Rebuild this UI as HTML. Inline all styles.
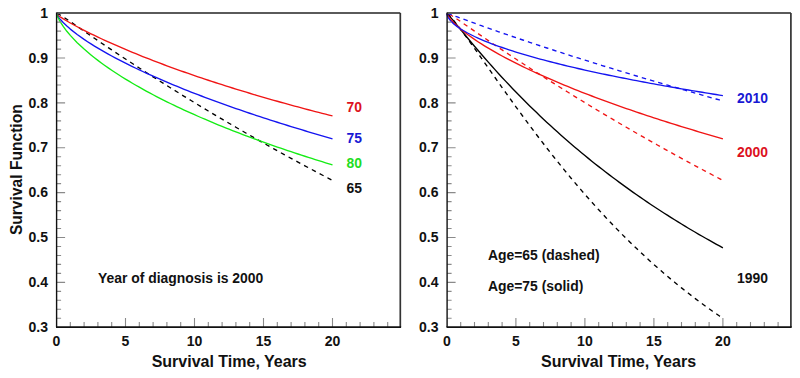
<!DOCTYPE html>
<html><head><meta charset="utf-8"><style>html,body{margin:0;padding:0;background:#fff;width:800px;height:378px;overflow:hidden}svg{display:block}</style></head>
<body><svg width="800" height="378" viewBox="0 0 800 378">
<style>
path{fill:none}
.cv path{stroke-width:1.35;stroke-linejoin:round}
.tk{stroke:#8a8a8a;stroke-width:1.1}
.ft{stroke:#5a5a5a;stroke-width:1.9}
.fr{stroke:#333;stroke-width:1.7}
.axl{stroke:#111;stroke-width:1.4}
.axb{stroke:#111;stroke-width:1.7}
text{font-family:"Liberation Sans",sans-serif;font-weight:bold}
.lb{font-size:14px;fill:#111}
.ti{font-size:16px;fill:#111}
.an{font-size:13.9px}
</style>
<rect width="800" height="378" fill="#fff"/>
<g class="cv">
<path d="M56.50,13.50 L56.78,13.51 L57.19,13.59 L57.88,13.82 L59.26,14.47 L60.64,15.24 L63.40,16.96 L66.85,19.25 L70.30,21.61 L77.20,26.38 L84.10,31.15 L87.55,33.53 L91.00,35.90 L94.45,38.25 L97.90,40.60 L101.35,42.94 L104.80,45.27 L108.25,47.59 L111.70,49.90 L115.15,52.20 L118.60,54.49 L122.05,56.77 L125.50,59.04 L128.95,61.30 L132.40,63.55 L135.85,65.79 L139.30,68.03 L142.75,70.25 L146.20,72.47 L149.65,74.68 L153.10,76.88 L156.55,79.07 L160.00,81.25 L163.45,83.43 L166.90,85.59 L170.35,87.75 L173.80,89.90 L177.25,92.04 L180.70,94.18 L184.15,96.30 L187.60,98.42 L191.05,100.53 L194.50,102.63 L197.95,104.72 L201.40,106.81 L204.85,108.89 L208.30,110.96 L211.75,113.02 L215.20,115.08 L218.65,117.12 L222.10,119.16 L225.55,121.19 L229.00,123.22 L232.45,125.23 L235.90,127.24 L239.35,129.24 L242.80,131.24 L246.25,133.22 L249.70,135.20 L253.15,137.17 L256.60,139.13 L260.05,141.09 L263.50,143.04 L266.95,144.98 L270.40,146.91 L273.85,148.83 L277.30,150.75 L280.75,152.66 L284.20,154.56 L287.65,156.45 L291.10,158.34 L294.55,160.22 L298.00,162.09 L301.45,163.95 L304.90,165.81 L308.35,167.66 L311.80,169.50 L315.25,171.33 L318.70,173.16 L322.15,174.98 L325.60,176.79 L329.05,178.59 L332.50,180.38" stroke="#000" stroke-dasharray="4.5,4.30" stroke-dashoffset="-0.31"/>
<path d="M56.50,13.50 L56.78,14.32 L57.19,14.69 L57.88,15.25 L59.26,16.26 L60.64,17.19 L63.40,18.94 L66.85,21.01 L70.30,22.99 L77.20,26.76 L84.10,30.35 L87.55,32.09 L91.00,33.79 L94.45,35.47 L97.90,37.12 L101.35,38.74 L104.80,40.33 L108.25,41.90 L111.70,43.45 L115.15,44.98 L118.60,46.48 L122.05,47.97 L125.50,49.44 L128.95,50.89 L132.40,52.32 L135.85,53.73 L139.30,55.13 L142.75,56.52 L146.20,57.88 L149.65,59.23 L153.10,60.57 L156.55,61.89 L160.00,63.20 L163.45,64.50 L166.90,65.78 L170.35,67.05 L173.80,68.31 L177.25,69.55 L180.70,70.78 L184.15,72.00 L187.60,73.21 L191.05,74.41 L194.50,75.60 L197.95,76.77 L201.40,77.94 L204.85,79.10 L208.30,80.24 L211.75,81.38 L215.20,82.50 L218.65,83.62 L222.10,84.72 L225.55,85.82 L229.00,86.91 L232.45,87.99 L235.90,89.06 L239.35,90.12 L242.80,91.17 L246.25,92.22 L249.70,93.25 L253.15,94.28 L256.60,95.30 L260.05,96.32 L263.50,97.32 L266.95,98.32 L270.40,99.31 L273.85,100.29 L277.30,101.26 L280.75,102.23 L284.20,103.19 L287.65,104.15 L291.10,105.10 L294.55,106.04 L298.00,106.97 L301.45,107.90 L304.90,108.82 L308.35,109.73 L311.80,110.64 L315.25,111.54 L318.70,112.44 L322.15,113.33 L325.60,114.21 L329.05,115.09 L332.50,115.96" stroke="#f01414"/>
<path d="M56.50,13.50 L56.78,14.22 L57.19,15.04 L57.88,16.19 L59.26,18.12 L60.64,19.82 L63.40,22.81 L66.85,26.11 L70.30,29.11 L77.20,34.52 L84.10,39.40 L87.55,41.70 L91.00,43.91 L94.45,46.06 L97.90,48.15 L101.35,50.18 L104.80,52.16 L108.25,54.09 L111.70,55.99 L115.15,57.84 L118.60,59.65 L122.05,61.43 L125.50,63.18 L128.95,64.90 L132.40,66.59 L135.85,68.25 L139.30,69.89 L142.75,71.50 L146.20,73.09 L149.65,74.65 L153.10,76.20 L156.55,77.72 L160.00,79.23 L163.45,80.72 L166.90,82.18 L170.35,83.63 L173.80,85.07 L177.25,86.49 L180.70,87.89 L184.15,89.28 L187.60,90.65 L191.05,92.01 L194.50,93.35 L197.95,94.68 L201.40,96.00 L204.85,97.30 L208.30,98.59 L211.75,99.87 L215.20,101.14 L218.65,102.40 L222.10,103.65 L225.55,104.88 L229.00,106.10 L232.45,107.32 L235.90,108.52 L239.35,109.72 L242.80,110.90 L246.25,112.07 L249.70,113.24 L253.15,114.40 L256.60,115.54 L260.05,116.68 L263.50,117.81 L266.95,118.93 L270.40,120.05 L273.85,121.15 L277.30,122.25 L280.75,123.34 L284.20,124.42 L287.65,125.49 L291.10,126.56 L294.55,127.62 L298.00,128.67 L301.45,129.72 L304.90,130.75 L308.35,131.78 L311.80,132.81 L315.25,133.83 L318.70,134.84 L322.15,135.84 L325.60,136.84 L329.05,137.83 L332.50,138.82" stroke="#1414f0"/>
<path d="M56.50,13.50 L56.78,14.46 L57.19,15.63 L57.88,17.28 L59.26,20.07 L60.64,22.48 L63.40,26.71 L66.85,31.29 L70.30,35.39 L77.20,42.67 L84.10,49.10 L87.55,52.09 L91.00,54.96 L94.45,57.72 L97.90,60.38 L101.35,62.95 L104.80,65.44 L108.25,67.87 L111.70,70.22 L115.15,72.52 L118.60,74.76 L122.05,76.95 L125.50,79.09 L128.95,81.18 L132.40,83.23 L135.85,85.24 L139.30,87.21 L142.75,89.15 L146.20,91.05 L149.65,92.91 L153.10,94.75 L156.55,96.55 L160.00,98.33 L163.45,100.08 L166.90,101.80 L170.35,103.49 L173.80,105.16 L177.25,106.81 L180.70,108.44 L184.15,110.04 L187.60,111.62 L191.05,113.18 L194.50,114.73 L197.95,116.25 L201.40,117.75 L204.85,119.24 L208.30,120.71 L211.75,122.16 L215.20,123.59 L218.65,125.01 L222.10,126.41 L225.55,127.80 L229.00,129.17 L232.45,130.53 L235.90,131.88 L239.35,133.21 L242.80,134.52 L246.25,135.83 L249.70,137.12 L253.15,138.40 L256.60,139.66 L260.05,140.92 L263.50,142.16 L266.95,143.39 L270.40,144.61 L273.85,145.82 L277.30,147.02 L280.75,148.20 L284.20,149.38 L287.65,150.55 L291.10,151.71 L294.55,152.85 L298.00,153.99 L301.45,155.12 L304.90,156.24 L308.35,157.35 L311.80,158.45 L315.25,159.54 L318.70,160.62 L322.15,161.70 L325.60,162.77 L329.05,163.82 L332.50,164.87" stroke="#14ec14"/>
<path d="M446.90,13.50 L447.18,13.66 L447.59,13.98 L448.28,14.59 L449.66,15.96 L451.04,17.46 L453.80,20.68 L457.25,24.97 L460.70,29.46 L467.60,38.79 L474.50,48.40 L477.95,53.26 L481.40,58.15 L484.85,63.05 L488.30,67.96 L491.75,72.86 L495.20,77.76 L498.65,82.64 L502.10,87.52 L505.55,92.37 L509.00,97.20 L512.45,102.00 L515.90,106.78 L519.35,111.52 L522.80,116.24 L526.25,120.92 L529.70,125.56 L533.15,130.17 L536.60,134.74 L540.05,139.27 L543.50,143.77 L546.95,148.22 L550.40,152.63 L553.85,157.00 L557.30,161.32 L560.75,165.61 L564.20,169.85 L567.65,174.04 L571.10,178.20 L574.55,182.30 L578.00,186.37 L581.45,190.38 L584.90,194.36 L588.35,198.29 L591.80,202.17 L595.25,206.01 L598.70,209.80 L602.15,213.55 L605.60,217.26 L609.05,220.91 L612.50,224.53 L615.95,228.10 L619.40,231.63 L622.85,235.11 L626.30,238.55 L629.75,241.95 L633.20,245.30 L636.65,248.61 L640.10,251.88 L643.55,255.10 L647.00,258.28 L650.45,261.42 L653.90,264.52 L657.35,267.58 L660.80,270.60 L664.25,273.58 L667.70,276.51 L671.15,279.41 L674.60,282.27 L678.05,285.08 L681.50,287.86 L684.95,290.61 L688.40,293.31 L691.85,295.97 L695.30,298.60 L698.75,301.19 L702.20,303.75 L705.65,306.27 L709.10,308.75 L712.55,311.20 L716.00,313.61 L719.45,315.99 L722.90,318.33" stroke="#000" stroke-dasharray="4.5,4.31" stroke-dashoffset="-0.43"/>
<path d="M446.90,13.50 L447.18,13.69 L447.59,14.06 L448.28,14.76 L449.66,16.29 L451.04,17.89 L453.80,21.18 L457.25,25.38 L460.70,29.59 L467.60,37.96 L474.50,46.20 L477.95,50.25 L481.40,54.27 L484.85,58.24 L488.30,62.17 L491.75,66.05 L495.20,69.89 L498.65,73.68 L502.10,77.43 L505.55,81.14 L509.00,84.80 L512.45,88.42 L515.90,92.00 L519.35,95.54 L522.80,99.03 L526.25,102.49 L529.70,105.90 L533.15,109.28 L536.60,112.61 L540.05,115.91 L543.50,119.17 L546.95,122.39 L550.40,125.58 L553.85,128.73 L557.30,131.85 L560.75,134.93 L564.20,137.97 L567.65,140.98 L571.10,143.96 L574.55,146.91 L578.00,149.82 L581.45,152.70 L584.90,155.55 L588.35,158.36 L591.80,161.15 L595.25,163.91 L598.70,166.63 L602.15,169.33 L605.60,171.99 L609.05,174.63 L612.50,177.24 L615.95,179.83 L619.40,182.38 L622.85,184.91 L626.30,187.41 L629.75,189.88 L633.20,192.33 L636.65,194.75 L640.10,197.15 L643.55,199.52 L647.00,201.87 L650.45,204.19 L653.90,206.49 L657.35,208.76 L660.80,211.01 L664.25,213.24 L667.70,215.44 L671.15,217.63 L674.60,219.79 L678.05,221.92 L681.50,224.04 L684.95,226.13 L688.40,228.21 L691.85,230.26 L695.30,232.29 L698.75,234.30 L702.20,236.29 L705.65,238.26 L709.10,240.21 L712.55,242.14 L716.00,244.05 L719.45,245.95 L722.90,247.82" stroke="#000"/>
<path d="M446.90,13.50 L447.18,13.51 L447.59,13.59 L448.28,13.82 L449.66,14.47 L451.04,15.24 L453.80,16.96 L457.25,19.25 L460.70,21.61 L467.60,26.38 L474.50,31.15 L477.95,33.53 L481.40,35.90 L484.85,38.25 L488.30,40.60 L491.75,42.94 L495.20,45.27 L498.65,47.59 L502.10,49.90 L505.55,52.20 L509.00,54.49 L512.45,56.77 L515.90,59.04 L519.35,61.30 L522.80,63.55 L526.25,65.79 L529.70,68.03 L533.15,70.25 L536.60,72.47 L540.05,74.68 L543.50,76.88 L546.95,79.07 L550.40,81.25 L553.85,83.43 L557.30,85.59 L560.75,87.75 L564.20,89.90 L567.65,92.04 L571.10,94.18 L574.55,96.30 L578.00,98.42 L581.45,100.53 L584.90,102.63 L588.35,104.72 L591.80,106.81 L595.25,108.89 L598.70,110.96 L602.15,113.02 L605.60,115.08 L609.05,117.12 L612.50,119.16 L615.95,121.19 L619.40,123.22 L622.85,125.23 L626.30,127.24 L629.75,129.24 L633.20,131.24 L636.65,133.22 L640.10,135.20 L643.55,137.17 L647.00,139.13 L650.45,141.09 L653.90,143.04 L657.35,144.98 L660.80,146.91 L664.25,148.83 L667.70,150.75 L671.15,152.66 L674.60,154.56 L678.05,156.45 L681.50,158.34 L684.95,160.22 L688.40,162.09 L691.85,163.95 L695.30,165.81 L698.75,167.66 L702.20,169.50 L705.65,171.33 L709.10,173.16 L712.55,174.98 L716.00,176.79 L719.45,178.59 L722.90,180.38" stroke="#f01414" stroke-dasharray="4.5,4.23" stroke-dashoffset="-2.32"/>
<path d="M446.90,13.50 L447.18,14.22 L447.59,15.04 L448.28,16.19 L449.66,18.12 L451.04,19.82 L453.80,22.81 L457.25,26.11 L460.70,29.11 L467.60,34.52 L474.50,39.40 L477.95,41.70 L481.40,43.91 L484.85,46.06 L488.30,48.15 L491.75,50.18 L495.20,52.16 L498.65,54.09 L502.10,55.99 L505.55,57.84 L509.00,59.65 L512.45,61.43 L515.90,63.18 L519.35,64.90 L522.80,66.59 L526.25,68.25 L529.70,69.89 L533.15,71.50 L536.60,73.09 L540.05,74.65 L543.50,76.20 L546.95,77.72 L550.40,79.23 L553.85,80.72 L557.30,82.18 L560.75,83.63 L564.20,85.07 L567.65,86.49 L571.10,87.89 L574.55,89.28 L578.00,90.65 L581.45,92.01 L584.90,93.35 L588.35,94.68 L591.80,96.00 L595.25,97.30 L598.70,98.59 L602.15,99.87 L605.60,101.14 L609.05,102.40 L612.50,103.65 L615.95,104.88 L619.40,106.10 L622.85,107.32 L626.30,108.52 L629.75,109.72 L633.20,110.90 L636.65,112.07 L640.10,113.24 L643.55,114.40 L647.00,115.54 L650.45,116.68 L653.90,117.81 L657.35,118.93 L660.80,120.05 L664.25,121.15 L667.70,122.25 L671.15,123.34 L674.60,124.42 L678.05,125.49 L681.50,126.56 L684.95,127.62 L688.40,128.67 L691.85,129.72 L695.30,130.75 L698.75,131.78 L702.20,132.81 L705.65,133.83 L709.10,134.84 L712.55,135.84 L716.00,136.84 L719.45,137.83 L722.90,138.82" stroke="#f01414"/>
<path d="M446.90,13.50 L447.18,13.53 L447.59,13.61 L448.28,13.79 L449.66,14.23 L451.04,14.70 L453.80,15.68 L457.25,16.93 L460.70,18.20 L467.60,20.73 L474.50,23.23 L477.95,24.47 L481.40,25.70 L484.85,26.93 L488.30,28.15 L491.75,29.36 L495.20,30.57 L498.65,31.77 L502.10,32.97 L505.55,34.15 L509.00,35.34 L512.45,36.51 L515.90,37.69 L519.35,38.85 L522.80,40.01 L526.25,41.17 L529.70,42.32 L533.15,43.47 L536.60,44.61 L540.05,45.75 L543.50,46.88 L546.95,48.01 L550.40,49.13 L553.85,50.25 L557.30,51.37 L560.75,52.48 L564.20,53.59 L567.65,54.69 L571.10,55.79 L574.55,56.88 L578.00,57.98 L581.45,59.06 L584.90,60.15 L588.35,61.23 L591.80,62.31 L595.25,63.38 L598.70,64.45 L602.15,65.52 L605.60,66.58 L609.05,67.64 L612.50,68.70 L615.95,69.75 L619.40,70.80 L622.85,71.85 L626.30,72.89 L629.75,73.93 L633.20,74.97 L636.65,76.01 L640.10,77.04 L643.55,78.07 L647.00,79.09 L650.45,80.11 L653.90,81.13 L657.35,82.15 L660.80,83.16 L664.25,84.17 L667.70,85.18 L671.15,86.19 L674.60,87.19 L678.05,88.19 L681.50,89.18 L684.95,90.18 L688.40,91.17 L691.85,92.16 L695.30,93.14 L698.75,94.12 L702.20,95.10 L705.65,96.08 L709.10,97.06 L712.55,98.03 L716.00,99.00 L719.45,99.97 L722.90,100.93" stroke="#1414f0" stroke-dasharray="4.5,4.03" stroke-dashoffset="-0.47"/>
<path d="M446.90,13.50 L447.18,15.13 L447.59,16.26 L448.28,17.62 L449.66,19.64 L451.04,21.26 L453.80,23.91 L457.25,26.63 L460.70,28.99 L467.60,33.02 L474.50,36.49 L477.95,38.08 L481.40,39.59 L484.85,41.04 L488.30,42.42 L491.75,43.76 L495.20,45.05 L498.65,46.30 L502.10,47.51 L505.55,48.69 L509.00,49.83 L512.45,50.95 L515.90,52.04 L519.35,53.10 L522.80,54.14 L526.25,55.16 L529.70,56.16 L533.15,57.13 L536.60,58.09 L540.05,59.04 L543.50,59.96 L546.95,60.87 L550.40,61.77 L553.85,62.65 L557.30,63.52 L560.75,64.37 L564.20,65.22 L567.65,66.05 L571.10,66.86 L574.55,67.67 L578.00,68.47 L581.45,69.26 L584.90,70.04 L588.35,70.80 L591.80,71.56 L595.25,72.31 L598.70,73.05 L602.15,73.79 L605.60,74.51 L609.05,75.23 L612.50,75.94 L615.95,76.64 L619.40,77.33 L622.85,78.02 L626.30,78.70 L629.75,79.38 L633.20,80.05 L636.65,80.71 L640.10,81.37 L643.55,82.02 L647.00,82.66 L650.45,83.30 L653.90,83.93 L657.35,84.56 L660.80,85.18 L664.25,85.80 L667.70,86.41 L671.15,87.02 L674.60,87.62 L678.05,88.22 L681.50,88.81 L684.95,89.40 L688.40,89.99 L691.85,90.57 L695.30,91.14 L698.75,91.71 L702.20,92.28 L705.65,92.85 L709.10,93.40 L712.55,93.96 L716.00,94.51 L719.45,95.06 L722.90,95.61" stroke="#1414f0"/>
</g>
<path d="M56.60,318.25h4.5 M56.60,309.28h4.5 M56.60,300.30h4.5 M56.60,291.33h4.5 M56.60,282.36h8.5 M56.60,273.39h4.5 M56.60,264.42h4.5 M56.60,255.44h4.5 M56.60,246.47h4.5 M56.60,237.50h8.5 M56.60,228.53h4.5 M56.60,219.56h4.5 M56.60,210.58h4.5 M56.60,201.61h4.5 M56.60,192.64h8.5 M56.60,183.67h4.5 M56.60,174.70h4.5 M56.60,165.72h4.5 M56.60,156.75h4.5 M56.60,147.78h8.5 M56.60,138.81h4.5 M56.60,129.84h4.5 M56.60,120.86h4.5 M56.60,111.89h4.5 M56.60,102.92h8.5 M56.60,93.95h4.5 M56.60,84.98h4.5 M56.60,76.00h4.5 M56.60,67.03h4.5 M56.60,58.06h8.5 M56.60,49.09h4.5 M56.60,40.12h4.5 M56.60,31.14h4.5 M56.60,22.17h4.5 M56.60,13.20h8.5 M70.30,327.1v-5 M84.10,327.1v-5 M97.90,327.1v-5 M111.70,327.1v-5 M125.50,327.1v-9 M139.30,327.1v-5 M153.10,327.1v-5 M166.90,327.1v-5 M180.70,327.1v-5 M194.50,327.1v-9 M208.30,327.1v-5 M222.10,327.1v-5 M235.90,327.1v-5 M249.70,327.1v-5 M263.50,327.1v-9 M277.30,327.1v-5 M291.10,327.1v-5 M304.90,327.1v-5 M318.70,327.1v-5 M332.50,327.1v-9 M346.30,327.1v-5 M360.10,327.1v-5 M373.90,327.1v-5 M387.70,327.1v-5" class="tk"/>
<path d="M56.6,13 H400.3" class="ft"/>
<path d="M400.3,13 V327.1" class="fr"/>
<path d="M56.6,12.4 V327.1" class="axl"/>
<path d="M56.0,327.1 H401.1" class="axb"/>
<text x="48.00" y="331.82" text-anchor="end" class="lb">0.3</text>
<text x="48.00" y="286.96" text-anchor="end" class="lb">0.4</text>
<text x="48.00" y="242.10" text-anchor="end" class="lb">0.5</text>
<text x="48.00" y="197.24" text-anchor="end" class="lb">0.6</text>
<text x="48.00" y="152.38" text-anchor="end" class="lb">0.7</text>
<text x="48.00" y="107.52" text-anchor="end" class="lb">0.8</text>
<text x="48.00" y="62.66" text-anchor="end" class="lb">0.9</text>
<text x="48.00" y="17.80" text-anchor="end" class="lb">1</text>
<text x="56.50" y="346" text-anchor="middle" class="lb">0</text>
<text x="125.50" y="346" text-anchor="middle" class="lb">5</text>
<text x="194.50" y="346" text-anchor="middle" class="lb">10</text>
<text x="263.50" y="346" text-anchor="middle" class="lb">15</text>
<text x="332.50" y="346" text-anchor="middle" class="lb">20</text>
<text x="229.20" y="367" text-anchor="middle" class="ti">Survival Time, Years</text>
<path d="M447.10,318.25h4.5 M447.10,309.28h4.5 M447.10,300.30h4.5 M447.10,291.33h4.5 M447.10,282.36h8.5 M447.10,273.39h4.5 M447.10,264.42h4.5 M447.10,255.44h4.5 M447.10,246.47h4.5 M447.10,237.50h8.5 M447.10,228.53h4.5 M447.10,219.56h4.5 M447.10,210.58h4.5 M447.10,201.61h4.5 M447.10,192.64h8.5 M447.10,183.67h4.5 M447.10,174.70h4.5 M447.10,165.72h4.5 M447.10,156.75h4.5 M447.10,147.78h8.5 M447.10,138.81h4.5 M447.10,129.84h4.5 M447.10,120.86h4.5 M447.10,111.89h4.5 M447.10,102.92h8.5 M447.10,93.95h4.5 M447.10,84.98h4.5 M447.10,76.00h4.5 M447.10,67.03h4.5 M447.10,58.06h8.5 M447.10,49.09h4.5 M447.10,40.12h4.5 M447.10,31.14h4.5 M447.10,22.17h4.5 M447.10,13.20h8.5 M460.70,327.1v-5 M474.50,327.1v-5 M488.30,327.1v-5 M502.10,327.1v-5 M515.90,327.1v-9 M529.70,327.1v-5 M543.50,327.1v-5 M557.30,327.1v-5 M571.10,327.1v-5 M584.90,327.1v-9 M598.70,327.1v-5 M612.50,327.1v-5 M626.30,327.1v-5 M640.10,327.1v-5 M653.90,327.1v-9 M667.70,327.1v-5 M681.50,327.1v-5 M695.30,327.1v-5 M709.10,327.1v-5 M722.90,327.1v-9 M736.70,327.1v-5 M750.50,327.1v-5 M764.30,327.1v-5 M778.10,327.1v-5" class="tk"/>
<path d="M447.1,13 H790.9" class="ft"/>
<path d="M790.9,13 V327.1" class="fr"/>
<path d="M447.1,12.4 V327.1" class="axl"/>
<path d="M446.5,327.1 H791.6999999999999" class="axb"/>
<text x="438.50" y="331.82" text-anchor="end" class="lb">0.3</text>
<text x="438.50" y="286.96" text-anchor="end" class="lb">0.4</text>
<text x="438.50" y="242.10" text-anchor="end" class="lb">0.5</text>
<text x="438.50" y="197.24" text-anchor="end" class="lb">0.6</text>
<text x="438.50" y="152.38" text-anchor="end" class="lb">0.7</text>
<text x="438.50" y="107.52" text-anchor="end" class="lb">0.8</text>
<text x="438.50" y="62.66" text-anchor="end" class="lb">0.9</text>
<text x="438.50" y="17.80" text-anchor="end" class="lb">1</text>
<text x="446.90" y="346" text-anchor="middle" class="lb">0</text>
<text x="515.90" y="346" text-anchor="middle" class="lb">5</text>
<text x="584.90" y="346" text-anchor="middle" class="lb">10</text>
<text x="653.90" y="346" text-anchor="middle" class="lb">15</text>
<text x="722.90" y="346" text-anchor="middle" class="lb">20</text>
<text x="618.50" y="367" text-anchor="middle" class="ti">Survival Time, Years</text>
<text transform="translate(21.5,169.7) rotate(-90)" text-anchor="middle" class="ti" style="font-size:15.6px">Survival Function</text>
<text x="346.5" y="112" class="an" fill="#dc1020">70</text>
<text x="346.5" y="143" class="an" fill="#1818d4">75</text>
<text x="346.5" y="168" class="an" fill="#22dd22">80</text>
<text x="346.5" y="193" class="an" fill="#111">65</text>
<text x="98" y="282.5" class="an" fill="#111">Year of diagnosis is 2000</text>
<text x="737" y="102.5" class="an" fill="#1818d4">2010</text>
<text x="737" y="156.5" class="an" fill="#dc1020">2000</text>
<text x="737" y="282.5" class="an" fill="#111">1990</text>
<text x="488" y="259.5" class="an" fill="#111">Age=65 (dashed)</text>
<text x="488" y="290.5" class="an" fill="#111">Age=75 (solid)</text>
</svg></body></html>
